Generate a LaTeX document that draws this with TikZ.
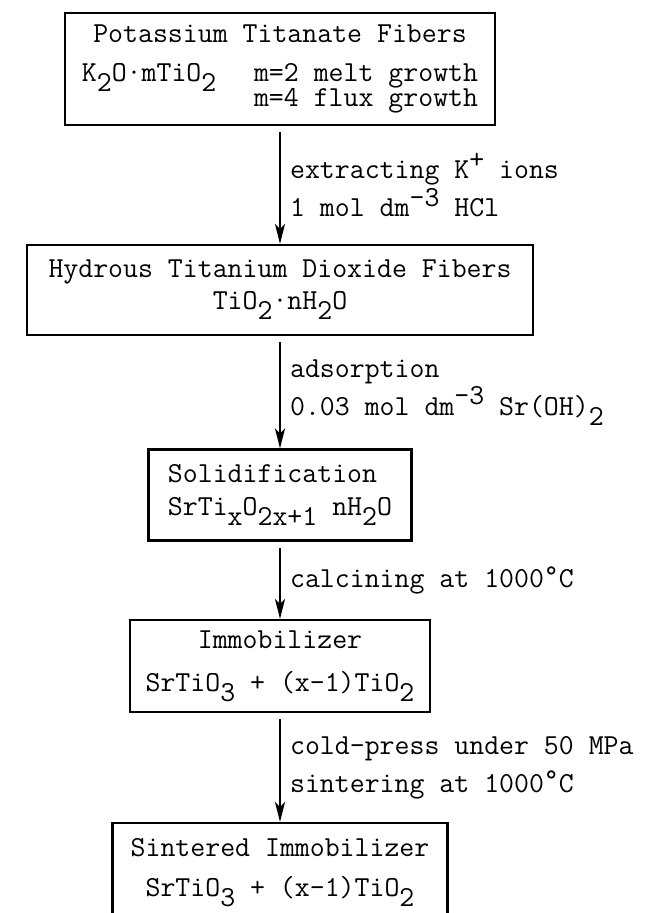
\documentclass[tikz,border=0pt]{standalone}
\usepackage{fontspec}
\usetikzlibrary{arrows.meta}

% indices de maquina de escrever
\newcommand{\tsub}[1]{\raisebox{-0.35em}{#1}}
\newcommand{\tsup}[1]{\raisebox{0.35em}{#1}}

\begin{document}
\begin{tikzpicture}[
        x=1pt, y=-1pt,
        >={Stealth[length=20pt,width=10pt,inset=5pt]},
        etapa/.style={rectangle, draw, line width=2.2pt, inner sep=0pt},
        seta/.style={->, line width=2.2pt, shorten <=6pt},
        rotulo/.style={right, align=left, inner sep=9pt},
        every node/.style={font=\fontsize{29}{36}\selectfont\ttfamily\addfontfeature{FakeBold=1}}
    ]

        \clip (0,0) rectangle (647,913);

        % ==================================================
        % ETAPAS
        % ==================================================

        \node[etapa, minimum width=430pt, minimum height=112pt, align=center] (fibras) at (280,69)
            {Potassium Titanate Fibers\\[3pt]
             K\tsub{2}O·mTiO\tsub{2}\hspace{1.3em}{\renewcommand{\arraystretch}{0.6}\begin{tabular}[t]{@{}l@{}}m=2 melt growth\\ m=4 flux growth\end{tabular}}};

        \node[etapa, minimum width=506pt, minimum height=90pt, align=center] (hidratado) at (280,290)
            {Hydrous Titanium Dioxide Fibers\\[-4pt] TiO\tsub{2}·nH\tsub{2}O};

        \node[etapa, minimum width=263pt, minimum height=91pt, align=left] (solido) at (280,495)
            {Solidification\\[-3pt] SrTi\tsub{x}O\tsub{2x+1} nH\tsub{2}O};

        \node[etapa, minimum width=300pt, minimum height=92pt, align=center] (imobil) at (280,666)
            {Immobilizer\\[7pt] SrTiO\tsub{3} + (x-1)TiO\tsub{2}};

        \node[etapa, minimum width=335pt, minimum height=100pt, align=center] (sinter) at (280,873)
            {Sintered Immobilizer\\[4pt] SrTiO\tsub{3} + (x-1)TiO\tsub{2}};

        % ==================================================
        % SETAS
        % ==================================================

        \draw[seta] (fibras) -- node[rotulo] {extracting K\tsup{+} ions\\[2pt] 1 mol dm\tsup{-3} HCl} (hidratado);
        \draw[seta] (hidratado) -- node[rotulo] {adsorption\\[2pt] 0.03 mol dm\tsup{-3} Sr(OH)\tsub{2}} (solido);
        \draw[seta] (solido) -- node[rotulo] {calcining at 1000\raisebox{0.12em}{°}C} (imobil);
        \draw[seta] (imobil) -- node[rotulo] {cold-press under 50 MPa\\[2pt] sintering at 1000\raisebox{0.12em}{°}C} (sinter);

\end{tikzpicture}
\end{document}
